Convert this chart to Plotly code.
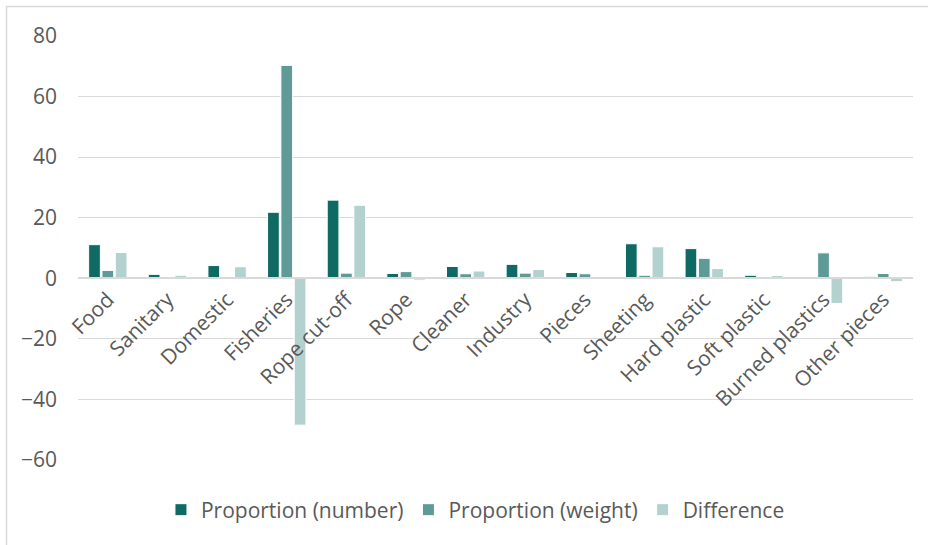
import plotly.graph_objects as go

categories = ["Food", "Sanitary", "Domestic", "Fisheries", "Rope cut-off", "Rope",
              "Cleaner", "Industry", "Pieces", "Sheeting", "Hard plastic",
              "Soft plastic", "Burned plastics", "Other pieces"]
prop_number = [11.1, 1.3, 4.2, 21.8, 25.8, 1.6, 3.9, 4.6, 1.9, 11.4, 9.8, 1.0, 0.1, 0.5]
prop_weight = [2.6, 0.3, 0.4, 70.3, 1.7, 2.2, 1.5, 1.7, 1.5, 1.0, 6.6, 0.1, 8.4, 1.6]
difference = [8.5, 1.0, 3.8, -48.5, 24.1, -0.6, 2.4, 2.9, 0.4, 10.4, 3.2, 0.9, -8.3, -1.1]

series = [
    ("Proportion (number)", prop_number, "#0e6a62"),
    ("Proportion (weight)", prop_weight, "#5e9b97"),
    ("Difference", difference, "#b3d1cf"),
]

FONT = "Open Sans, DejaVu Sans, sans-serif"
TEXT = "#595959"
GRID = "#d9d9d9"

y_min, y_max = -60, 80

fig = go.Figure()
for name, vals, color in series:
    fig.add_trace(go.Bar(
        x=categories, y=vals, name=name,
        marker=dict(color=color, line=dict(color="white", width=1)),
    ))

fig.update_layout(
    width=928, height=545,
    margin=dict(l=78, r=15, t=36, b=85),
    paper_bgcolor="white", plot_bgcolor="white",
    barmode="group", bargap=0.33, bargroupgap=0.12,
    font=dict(family=FONT, size=21, color=TEXT),
    showlegend=True,
    legend=dict(orientation="h", x=0.476, xanchor="center", y=-0.118, yanchor="middle",
                font=dict(family=FONT, size=21, color=TEXT), traceorder="normal"),
    xaxis=dict(
        type="category", anchor="free",
        position=(0 - y_min) / (y_max - y_min),
        showline=True, linecolor=GRID, linewidth=1.5,
        showgrid=False, ticks="", tickangle=-45,
        tickfont=dict(family=FONT, size=21, color=TEXT),
    ),
    yaxis=dict(
        range=[y_min, y_max], tickmode="linear", dtick=20, tick0=0,
        showgrid=True, gridcolor=GRID, gridwidth=1.3,
        zeroline=False, showline=False, ticks="",
        ticklabelstandoff=20,
        tickfont=dict(family=FONT, size=21, color=TEXT),
    ),
    shapes=[dict(type="rect", xref="paper", yref="paper",
                 x0=-0.0856, x1=1.1, y0=-0.3, y1=1.0696,
                 line=dict(color=GRID, width=1.5), fillcolor="rgba(0,0,0,0)",
                 layer="below")],
)

fig.write_html("out.html")
